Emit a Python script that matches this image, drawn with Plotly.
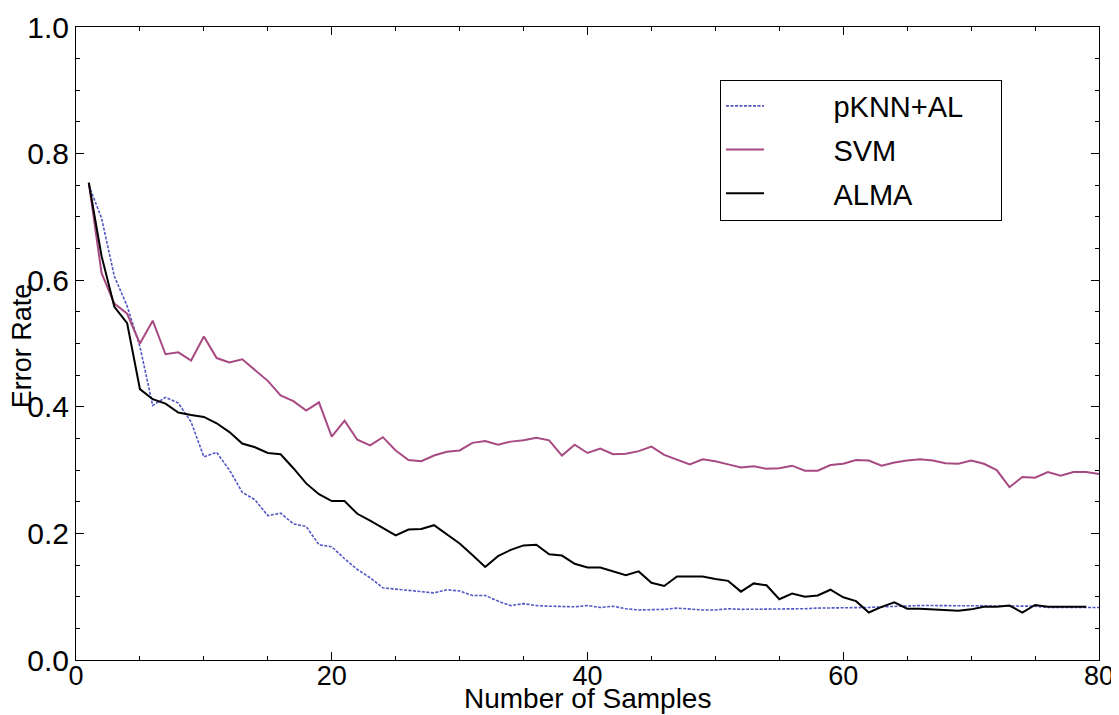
import plotly.graph_objects as go

x_svm = list(range(1, 81))
x_pknn = list(range(1, 81))
x_alma = list(range(1, 80))

svm = [0.754, 0.611, 0.563, 0.547, 0.500, 0.536, 0.483, 0.486, 0.473, 0.511,
       0.477, 0.470, 0.475, 0.458, 0.441, 0.418, 0.409, 0.394, 0.407, 0.353,
       0.378, 0.348, 0.339, 0.352, 0.331, 0.316, 0.314, 0.323, 0.329, 0.331,
       0.343, 0.346, 0.340, 0.345, 0.347, 0.351, 0.347, 0.323, 0.340, 0.327,
       0.334, 0.325, 0.326, 0.330, 0.337, 0.324, 0.316, 0.309, 0.317, 0.314,
       0.309, 0.304, 0.306, 0.302, 0.303, 0.307, 0.299, 0.299, 0.308, 0.310,
       0.316, 0.315, 0.307, 0.312, 0.315, 0.317, 0.315, 0.311, 0.310, 0.315,
       0.310, 0.300, 0.273, 0.289, 0.288, 0.297, 0.291, 0.297, 0.297, 0.294]

pknn = [0.750, 0.698, 0.606, 0.559, 0.495, 0.402, 0.415, 0.406, 0.376, 0.321,
        0.328, 0.300, 0.265, 0.253, 0.228, 0.232, 0.215, 0.211, 0.182, 0.179,
        0.160, 0.143, 0.130, 0.114, 0.112, 0.110, 0.109, 0.106, 0.111, 0.109,
        0.102, 0.102, 0.093, 0.086, 0.089, 0.086, 0.085, 0.085, 0.084, 0.086,
        0.083, 0.085, 0.081, 0.079, 0.079, 0.080, 0.082, 0.080, 0.079, 0.079,
        0.081, 0.080, 0.080, 0.080, 0.080, 0.080, 0.081, 0.082, 0.082, 0.082,
        0.083, 0.083, 0.084, 0.085, 0.086, 0.086, 0.086, 0.086, 0.086, 0.086,
        0.086, 0.086, 0.085, 0.085, 0.085, 0.083, 0.083, 0.083, 0.083, 0.083]

alma = [0.754, 0.638, 0.558, 0.532, 0.428, 0.412, 0.405, 0.391, 0.387, 0.384,
        0.374, 0.360, 0.342, 0.336, 0.327, 0.325, 0.303, 0.279, 0.262, 0.251,
        0.251, 0.231, 0.220, 0.208, 0.197, 0.206, 0.207, 0.213, 0.199, 0.184,
        0.166, 0.147, 0.164, 0.174, 0.181, 0.182, 0.167, 0.165, 0.152, 0.146,
        0.146, 0.140, 0.134, 0.140, 0.122, 0.117, 0.132, 0.132, 0.132, 0.128,
        0.125, 0.108, 0.121, 0.118, 0.096, 0.105, 0.100, 0.102, 0.111, 0.099,
        0.093, 0.075, 0.084, 0.091, 0.081, 0.081, 0.080, 0.079, 0.078, 0.080,
        0.084, 0.084, 0.086, 0.075, 0.087, 0.084, 0.084, 0.084, 0.084]

series_names = ["pKNN+AL", "SVM", "ALMA"]
x_ticks = [0, 20, 40, 60, 80]
y_ticks = [0.0, 0.2, 0.4, 0.6, 0.8, 1.0]

FONT = "Liberation Sans, Arial, Helvetica, sans-serif"
NB = "\u00a0"


def legend_label(name):
    return NB * 8 + name + NB * 4


fig = go.Figure()
fig.add_trace(go.Scatter(x=x_pknn, y=pknn, mode="lines",
                         name=legend_label(series_names[0]), legendgroup="a",
                         line=dict(color="#5257c4", width=1.6, dash="3px,1.5px")))
fig.add_trace(go.Scatter(x=x_svm, y=svm, mode="lines",
                         name=legend_label(series_names[1]), legendgroup="b",
                         line=dict(color="#a84a82", width=2)))
fig.add_trace(go.Scatter(x=x_alma, y=alma, mode="lines",
                         name=legend_label(series_names[2]), legendgroup="c",
                         line=dict(color="#000000", width=2)))

axis_common = dict(
    showgrid=False, zeroline=False, showline=True, linecolor="black",
    linewidth=1, mirror="ticks", ticks="inside", ticklen=8, tickcolor="black",
    tickwidth=1,
)

fig.update_xaxes(range=[0, 80], tickvals=x_ticks,
                 tickfont=dict(family=FONT, size=27, color="black"),
                 ticklabelstandoff=-8,
                 minor=dict(dtick=5, tick0=0, ticks="inside", ticklen=4,
                            tickcolor="black"),
                 **axis_common)
fig.update_yaxes(range=[0, 1], tickvals=y_ticks, tickformat=".1f",
                 tickfont=dict(family=FONT, size=30, color="black"),
                 minor=dict(dtick=0.05, tick0=0, ticks="inside", ticklen=4,
                            tickcolor="black"),
                 **axis_common)

fig.update_layout(
    width=1111, height=707,
    margin=dict(l=68, r=20, t=19, b=55, autoexpand=False),
    plot_bgcolor="white", paper_bgcolor="white",
    font=dict(family=FONT, color="black"),
    showlegend=True,
    legend=dict(x=0.6295, y=0.917, xanchor="left", yanchor="top",
                bgcolor="white", bordercolor="black", borderwidth=1,
                font=dict(family=FONT, size=29, color="black"),
                itemwidth=38, tracegroupgap=3, traceorder="grouped"),
    annotations=[
        dict(text="Error Rate", xref="paper", yref="paper", x=-0.052, y=0.497,
             xanchor="center", yanchor="middle", textangle=-90,
             showarrow=False, font=dict(family=FONT, size=27, color="black")),
        dict(text="Number of Samples", xref="paper", yref="paper", x=0.5,
             y=-0.0605, xanchor="center", yanchor="middle", showarrow=False,
             font=dict(family=FONT, size=28, color="black")),
    ],
)

fig.write_html("out.html")
